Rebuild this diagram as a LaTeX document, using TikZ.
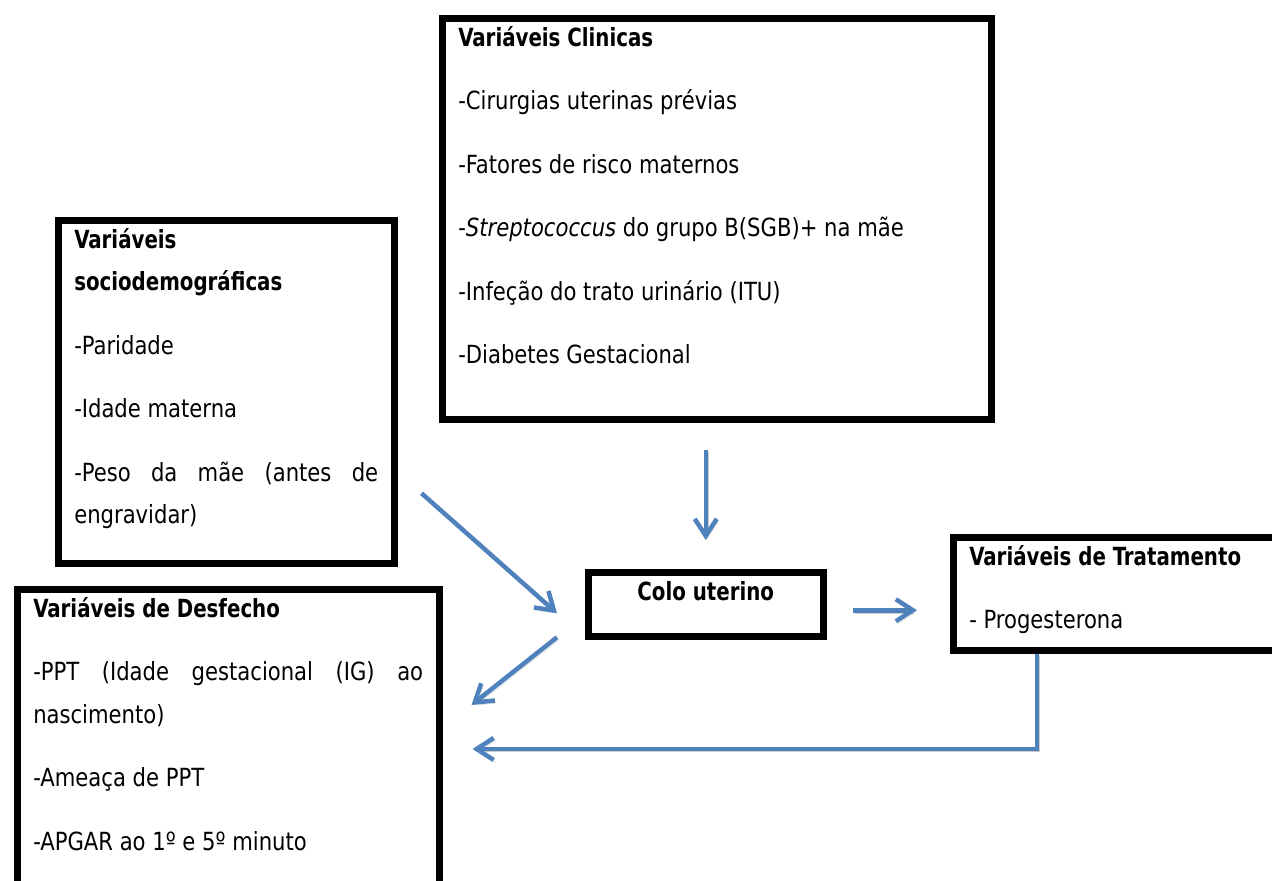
\documentclass[tikz,border=0pt]{standalone}
\usepackage{fontspec}
\setmainfont[FakeStretch=0.94, BoldFeatures={FakeStretch=0.88}]{DejaVu Sans Condensed}
\usetikzlibrary{arrows.meta}
\definecolor{flowblue}{RGB}{79,129,189}
\tikzset{>={Straight Barb[length=17pt,width=22pt,line width=4.5pt]}}
\newcommand{\boxtext}[3]{\parbox[t][#2][t]{#1}{\fontsize{25}{42.5}\selectfont\setlength{\parskip}{21pt}\hyphenpenalty=10000 \rule{0pt}{28pt}#3}}

\begin{document}
\begin{tikzpicture}[x=1pt,y=1pt,
    varbox/.style={draw, line width=6.5pt, inner xsep=16pt, inner ysep=0pt, anchor=north west},
    flow/.style={->, draw=flowblue, line width=4.5pt,
      preaction={draw=black!20, transform canvas={shift={(2pt,-2.5pt)}}}}]
		\useasboundingbox (0,0) rectangle (1272,-881);
		\node[varbox] (clin) at (439,-15) {\boxtext{517pt}{401pt}{\textbf{Variáveis Clinicas}\par
			-Cirurgias uterinas prévias\par
			-Fatores de risco maternos\par
			-\textit{Streptococcus} do grupo B(SGB)+ na mãe\par
			-Infeção do trato urinário (ITU)\par
			-Diabetes Gestacional}};
		\node[varbox] (socio) at (55,-217) {\boxtext{304pt}{343pt}{\textbf{Variáveis}\\
			\textbf{sociodemográficas}\par
			-Paridade\par
			-Idade materna\par
			-Peso da mãe (antes de engravidar)}};
		\node[varbox] (desf) at (14,-586) {\boxtext{390pt}{340pt}{\textbf{Variáveis de Desfecho}\par
			-PPT (Idade gestacional (IG) ao nascimento)\par
			-Ameaça de PPT\par
			-APGAR ao 1º e 5º minuto}};
		\node[varbox] (colo) at (585,-569) {\boxtext{203pt}{64pt}{\centering\textbf{Colo uterino}}};
		\node[varbox] (trat) at (950,-534) {\boxtext{308pt}{113pt}{\textbf{Variáveis de Tratamento}\par
			- Progesterona}};
		\draw[flow, shorten <=27pt, shorten >=29pt] (clin.south -| colo.north) -- (colo.north);
		\draw[flow] ([shift={(24,-101.5)}]socio.east) -- ([shift={(-28,-9)}]colo.west);
		\draw[flow] ([shift={(-28,-33)}]colo.west) -- ([shift={(29,-119)}]desf.north east);
		\draw[flow] ([shift={(26,-6)}]colo.east) -- ([shift={(-33,-16.5)}]trat.west);
		\draw[flow] ([xshift=87pt]trat.south west) |- ([shift={(30,-163)}]desf.north east);
	\end{tikzpicture}
\end{document}
